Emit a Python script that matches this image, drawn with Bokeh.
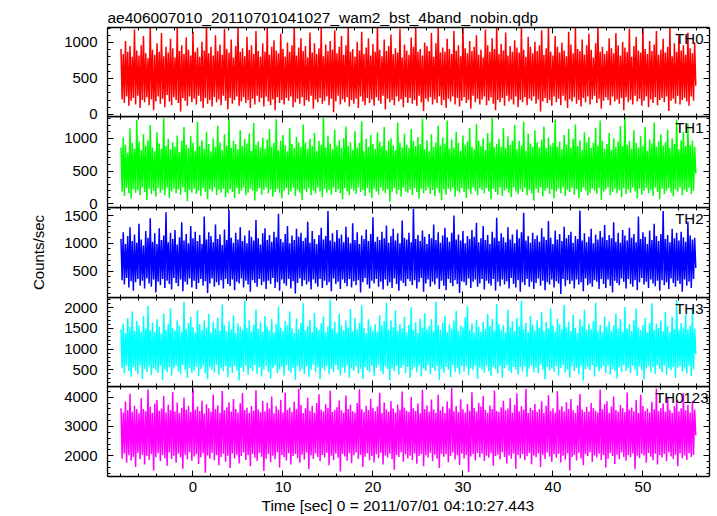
import numpy as np
from bokeh.plotting import figure
from bokeh.layouts import column
from bokeh.models import (Range1d, LinearAxis, SingleIntervalTicker, Label, Title,
                          ColumnDataSource, CustomJSTickFormatter)
from bokeh.embed import file_html
from bokeh.resources import INLINE

FONT = "Liberation Sans"

TITLE = "ae406007010_20110701041027_wam2_bst_4band_nobin.qdp"
X_LABEL = "Time [sec] 0 = 2011/07/01 04:10:27.443"
Y_LABEL = "Counts/sec"

# time bins (sec)
T_START = -8.0
T_BIN = 0.125

panel_names = ["TH0", "TH1", "TH2", "TH3", "TH0123"]
colors = ["#ff0000", "#00ff00", "#0000ff", "#00ffff", "#ff00ff"]
y_lo = [-28, -56, 28, 96, 1293]
y_hi = [1208, 1331, 1644, 2249, 4365]
y_major = [500, 500, 500, 500, 1000]
x_lo, x_hi = -9.5, 57.4
x_major = 10

th0 = [
    910, 210, 840, 160, 1020, 250, 870, 120, 950, 190, 800, 230, 1180, 140, 890, 260,
    820, 90, 960, 200, 1090, 170, 850, 240, 780, 130, 1240, 210, 900, 60, 830, 180,
    990, 250, 870, 150, 1130, 220, 810, 100, 940, 270, 860, 180, 1050, 130, 920, 240,
    790, 200, 1210, 160, 880, 40, 960, 230, 840, 190, 1070, 120, 900, 250, 820, 170,
    1150, 220, 870, 140, 930, 260, 800, 180, 1010, 90, 890, 230, 1260, 150, 850, 200,
    940, 110, 820, 240, 1100, 170, 880, 210, 970, 130, 830, 260, 1190, 190, 910, 70,
    860, 230, 1040, 150, 790, 200, 950, 250, 1230, 120, 870, 180, 920, 240, 810, 160,
    1080, 200, 900, 90, 960, 220, 840, 140, 1160, 260, 880, 170, 800, 230, 990, 110,
    870, 250, 1220, 180, 830, 130, 940, 210, 1030, 60, 890, 240, 850, 160, 1120, 200,
    910, 140, 800, 230, 1000, 190, 870, 250, 960, 100, 1250, 170, 820, 220, 930, 150,
    1060, 240, 880, 120, 950, 200, 790, 180, 1140, 260, 860, 80, 990, 210, 840, 170,
    920, 230, 1200, 150, 810, 190, 970, 250, 880, 130, 1020, 220, 900, 30, 1170, 180,
    850, 260, 940, 140, 1090, 210, 830, 170, 960, 240, 1230, 110, 870, 200, 910, 150,
    800, 220, 1010, 90, 890, 250, 1150, 180, 840, 130, 930, 230, 1060, 160, 820, 210,
    980, 120, 870, 240, 1260, 190, 900, 150, 810, 260, 1040, 70, 880, 220, 950, 170,
    1110, 200, 840, 130, 920, 250, 860, 180, 1190, 210, 790, 100, 970, 240, 890, 160,
    830, 230, 1070, 150, 940, 200, 1240, 120, 870, 260, 910, 170, 820, 50, 1000, 220,
    950, 180, 880, 240, 1130, 140, 800, 210, 990, 160, 1210, 250, 860, 130, 930, 200,
    870, 90, 1050, 220, 910, 180, 840, 250, 1160, 140, 890, 230, 960, 110, 810, 190,
    1230, 240, 920, 160, 850, 200, 1020, 80, 880, 260, 940, 170, 1100, 220, 830, 140,
    900, 210, 790, 250, 1180, 130, 960, 190, 870, 240, 1060, 150, 910, 60, 1250, 200,
    840, 170, 980, 230, 890, 120, 1140, 260, 820, 180, 950, 210, 870, 140, 1030, 250,
    930, 100, 860, 200, 1220, 170, 900, 240, 800, 130, 1080, 220, 940, 190, 850, 250,
    1010, 150, 880, 210, 960, 40, 1170, 180, 830, 230, 920, 160, 1240, 200, 870, 120,
    820, 250, 1090, 170, 940, 220, 860, 130, 1000, 260, 890, 190, 810, 90, 1150, 210,
    970, 180, 850, 240, 1200, 150, 910, 200, 880, 110, 1040, 230, 830, 170, 960, 250,
    1120, 140, 900, 210, 790, 260, 990, 160, 1260, 220, 870, 80, 940, 190, 840, 240,
    880, 200, 1060, 130, 920, 250, 850, 180, 1130, 210, 960, 150, 820, 230, 1010, 60,
    930, 240, 870, 170, 1190, 200, 800, 140, 950, 260, 1080, 180, 890, 220, 860, 120,
    1230, 190, 910, 250, 840, 100, 1020, 210, 880, 160, 970, 240, 1160, 130, 830, 200,
    900, 230, 1050, 170, 860, 250, 940, 50, 1210, 190, 810, 220, 990, 150, 870, 260,
    1100, 140, 890, 200, 960, 230, 830, 180, 1140, 120, 920, 250, 850, 190, 1000, 400,
]

th1 = [
    860, 190, 1010, 120, 900, 240, 780, 160, 1150, 80, 930, 220, 840, 170, 1280, 210,
    950, 130, 820, 250, 1060, 180, 890, 60, 970, 230, 1200, 150, 860, 200, 800, 110,
    1090, 240, 920, 170, 840, 210, 1310, 130, 880, 250, 990, 90, 830, 190, 940, 230,
    870, 160, 1040, 220, 790, 140, 960, 250, 1170, 180, 900, 40, 850, 210, 1030, 170,
    930, 230, 810, 150, 1250, 200, 880, 120, 970, 240, 840, 180, 1100, 70, 910, 220,
    800, 190, 1000, 250, 870, 130, 1190, 210, 940, 170, 820, 230, 1060, 100, 890, 160,
    1300, 220, 850, 180, 960, 90, 910, 240, 830, 150, 1120, 200, 880, 250, 990, 130,
    920, 170, 1070, 230, 810, 200, 1230, 50, 900, 190, 950, 240, 860, 140, 1010, 210,
    840, 250, 980, 160, 1140, 220, 870, 110, 930, 180, 1290, 230, 820, 170, 960, 80,
    1050, 200, 890, 240, 800, 140, 1160, 190, 910, 250, 850, 120, 1020, 210, 940, 170,
    870, 60, 1210, 220, 930, 180, 840, 240, 990, 130, 880, 200, 1080, 160, 810, 250,
    960, 190, 900, 100, 1320, 230, 860, 170, 1040, 210, 920, 140, 830, 250, 1130, 180,
    890, 220, 970, 160, 850, 70, 1000, 240, 1180, 190, 880, 130, 940, 230, 820, 200,
    1110, 150, 860, 250, 930, 180, 1260, 210, 800, 120, 990, 240, 870, 170, 1050, 90,
    910, 230, 840, 190, 1090, 140, 950, 250, 880, 200, 1170, 160, 820, 220, 960, 30,
    1000, 180, 890, 240, 820, 150, 1240, 210, 930, 110, 860, 250, 1070, 190, 900, 170,
    850, 220, 1140, 130, 960, 240, 880, 180, 1020, 80, 910, 230, 1300, 160, 830, 200,
    970, 250, 800, 150, 1060, 210, 870, 120, 940, 240, 1190, 170, 890, 60, 1010, 220,
    920, 140, 1270, 230, 840, 190, 980, 250, 860, 110, 1100, 200, 930, 170, 810, 240,
    1040, 180, 900, 90, 950, 220, 1160, 150, 870, 250, 830, 200, 1220, 130, 960, 240,
    880, 210, 1000, 160, 820, 240, 1080, 190, 940, 70, 1310, 230, 860, 180, 910, 140,
    990, 250, 870, 120, 1150, 200, 850, 230, 1030, 170, 900, 100, 960, 250, 1200, 190,
    830, 150, 960, 220, 890, 180, 1250, 240, 810, 130, 1070, 210, 920, 160, 870, 50,
    1120, 230, 940, 170, 860, 250, 980, 110, 1180, 200, 850, 240, 1010, 150, 890, 220,
    930, 80, 1290, 190, 870, 230, 950, 160, 830, 250, 1050, 120, 900, 210, 1140, 180,
    860, 240, 990, 140, 1210, 220, 880, 90, 970, 180, 820, 250, 1090, 200, 940, 130,
    1020, 170, 850, 230, 930, 200, 1160, 150, 890, 240, 1270, 60, 960, 190, 840, 220,
    910, 250, 1080, 130, 820, 180, 1000, 230, 870, 160, 950, 210, 1190, 100, 880, 240,
    1310, 150, 900, 220, 960, 170, 840, 250, 1120, 190, 930, 80, 860, 230, 1030, 140,
    880, 200, 1170, 240, 810, 160, 980, 210, 920, 120, 1240, 250, 870, 180, 950, 70,
    1060, 230, 890, 150, 940, 200, 1130, 240, 850, 170, 1000, 110, 910, 220, 1280, 190,
    830, 250, 970, 130, 1100, 210, 880, 180, 1220, 240, 900, 150, 960, 200, 870, 460,
]

th2 = [
    1080, 340, 1200, 260, 990, 380, 1130, 210, 1290, 320, 1040, 150, 1160, 300, 1010, 360,
    1350, 240, 1070, 330, 960, 190, 1220, 370, 1100, 280, 1450, 220, 1030, 350, 1180, 120,
    990, 310, 1270, 250, 1060, 360, 1140, 200, 1560, 330, 1020, 270, 1190, 170, 1080, 380,
    1240, 290, 980, 230, 1110, 350, 1380, 140, 1050, 310, 1170, 260, 1000, 370, 1310, 210,
    1090, 330, 1210, 180, 1040, 290, 1150, 360, 990, 240, 1480, 320, 1070, 110, 1200, 280,
    1130, 370, 1020, 220, 1340, 300, 1080, 250, 1160, 340, 970, 190, 1250, 360, 1060, 270,
    1600, 230, 1100, 350, 1010, 160, 1190, 310, 1070, 280, 1290, 370, 1040, 210, 1140, 330,
    1000, 260, 1230, 130, 1120, 340, 1050, 290, 1420, 220, 1090, 360, 980, 250, 1180, 310,
    1270, 180, 1060, 330, 1150, 270, 1030, 380, 1210, 200, 1110, 300, 1530, 150, 1080, 350,
    1020, 280, 1170, 240, 1310, 360, 1000, 190, 1140, 320, 1060, 100, 1260, 290, 1120, 370,
    1190, 230, 1040, 340, 1100, 260, 1390, 310, 1010, 170, 1220, 350, 1080, 280, 990, 220,
    1150, 360, 1280, 200, 1070, 330, 1130, 250, 1580, 300, 1050, 140, 1180, 370, 1030, 270,
    1240, 310, 1090, 180, 1160, 350, 1020, 290, 1300, 230, 1110, 360, 1000, 210, 1360, 320,
    1060, 250, 1200, 340, 990, 120, 1140, 300, 1080, 380, 1250, 260, 1040, 190, 1170, 330,
    1470, 280, 1030, 360, 1120, 220, 1060, 310, 1210, 170, 1090, 350, 1320, 240, 1010, 300,
    1130, 200, 1260, 370, 1050, 270, 1180, 150, 1000, 330, 1410, 290, 1100, 230, 1070, 360,
    1190, 320, 1020, 250, 1620, 340, 1080, 190, 1150, 300, 1040, 380, 1230, 130, 1120, 280,
    990, 350, 1170, 220, 1090, 310, 1340, 260, 1060, 370, 1200, 180, 1010, 330, 1140, 240,
    1280, 160, 1110, 360, 1030, 290, 1190, 230, 1500, 340, 1070, 270, 1160, 110, 1050, 320,
    1220, 300, 1000, 250, 1130, 370, 1080, 200, 1240, 310, 1120, 350, 1370, 220, 1020, 280,
    1090, 360, 1310, 170, 1060, 330, 1150, 280, 990, 240, 1210, 360, 1100, 150, 1460, 310,
    1040, 230, 1180, 350, 1110, 260, 1020, 320, 1290, 190, 1070, 380, 1160, 270, 1000, 210,
    1250, 340, 1090, 130, 1200, 300, 1550, 250, 1050, 360, 1130, 220, 1010, 310, 1190, 180,
    1080, 290, 1140, 370, 1030, 240, 1270, 330, 1120, 160, 1060, 300, 1400, 260, 1100, 350,
    990, 210, 1230, 320, 1070, 280, 1170, 90, 1040, 360, 1300, 230, 1090, 340, 1150, 270,
    1210, 330, 1010, 190, 1130, 350, 1080, 260, 1590, 300, 1050, 140, 1180, 370, 1020, 250,
    1120, 280, 1260, 220, 1000, 340, 1160, 310, 1070, 180, 1220, 360, 1110, 270, 1330, 200,
    1060, 350, 1150, 240, 1090, 120, 1380, 330, 1030, 290, 1190, 250, 1010, 370, 1240, 310,
    1140, 190, 1050, 360, 1280, 270, 1100, 220, 1170, 340, 1020, 160, 1480, 300, 1080, 380,
    1200, 260, 1120, 310, 990, 200, 1230, 350, 1060, 280, 1350, 230, 1130, 330, 1040, 150,
    1170, 340, 1580, 250, 1080, 300, 1150, 180, 1020, 370, 1260, 290, 1090, 220, 1190, 330,
    1050, 270, 1210, 130, 1110, 350, 1030, 240, 1390, 310, 1140, 200, 1070, 360, 1100, 560,
]

th3 = [
    1480, 540, 1620, 410, 1390, 600, 1750, 470, 1530, 330, 1910, 560, 1440, 480, 1680, 390,
    1570, 610, 1420, 280, 1800, 520, 1500, 450, 2050, 580, 1460, 370, 1640, 540, 1410, 490,
    1720, 420, 1540, 600, 1380, 250, 1860, 510, 1470, 440, 1600, 570, 1990, 360, 1510, 530,
    1450, 590, 1690, 460, 1560, 390, 1420, 610, 2140, 500, 1490, 300, 1630, 550, 1780, 430,
    1530, 480, 1400, 570, 1940, 350, 1610, 520, 1460, 600, 1700, 410, 1520, 270, 1850, 560,
    1410, 500, 1660, 440, 1500, 620, 1760, 380, 1440, 530, 2080, 470, 1580, 590, 1430, 320,
    1670, 560, 1480, 420, 1820, 590, 1390, 490, 1620, 240, 1540, 550, 1470, 450, 2180, 600,
    1510, 380, 1700, 530, 1430, 470, 1590, 610, 1960, 400, 1490, 560, 1650, 340, 1420, 510,
    1800, 590, 1550, 450, 1460, 290, 1730, 540, 1400, 600, 1610, 420, 2030, 500, 1520, 570,
    1440, 360, 1680, 610, 1570, 480, 1910, 430, 1500, 550, 1390, 260, 1740, 590, 1480, 460,
    1640, 520, 2110, 400, 1450, 580, 1560, 330, 1710, 500, 1420, 620, 1880, 440, 1530, 560,
    1470, 270, 1620, 540, 1790, 470, 1410, 590, 1540, 390, 2200, 520, 1490, 450, 1660, 610,
    1400, 500, 1850, 360, 1580, 560, 1460, 430, 1690, 600, 1520, 310, 1970, 540, 1430, 480,
    1760, 590, 1480, 410, 1630, 520, 2060, 280, 1510, 570, 1390, 490, 1720, 440, 1550, 600,
    1450, 350, 1600, 550, 1420, 610, 1820, 470, 1570, 400, 1680, 580, 2120, 520, 1470, 250,
    1700, 530, 1530, 460, 1940, 590, 1440, 380, 1610, 540, 1500, 610, 1780, 420, 1410, 570,
    1590, 300, 2010, 500, 1460, 560, 1650, 440, 1390, 600, 1740, 340, 1520, 530, 1870, 470,
    1480, 610, 1560, 390, 1720, 550, 1430, 480, 2150, 590, 1580, 260, 1470, 520, 1640, 430,
    1810, 570, 1410, 500, 1600, 320, 1500, 610, 1690, 450, 1920, 540, 1440, 400, 1570, 590,
    1530, 460, 1770, 580, 2040, 370, 1460, 530, 1620, 490, 1400, 600, 1710, 280, 1540, 550,
    1420, 510, 1660, 430, 1490, 600, 1850, 470, 1560, 350, 1730, 560, 1450, 520, 2090, 410,
    1610, 590, 1470, 300, 1580, 540, 1400, 610, 1960, 480, 1520, 420, 1680, 570, 1430, 500,
    1750, 380, 1550, 560, 2170, 460, 1480, 590, 1630, 330, 1410, 530, 1800, 600, 1590, 440,
    1460, 550, 1700, 410, 1520, 620, 1890, 500, 1440, 270, 1650, 570, 1500, 480, 1990, 530,
    1570, 450, 1420, 590, 1740, 360, 1600, 540, 1480, 610, 2070, 430, 1530, 500, 1660, 310,
    1440, 580, 1830, 470, 1510, 550, 1390, 400, 1720, 600, 1560, 240, 1950, 520, 1470, 560,
    1620, 490, 1480, 610, 1680, 340, 2130, 570, 1430, 460, 1590, 530, 1410, 590, 1790, 420,
    1540, 600, 1670, 380, 1450, 520, 1570, 480, 1860, 290, 1500, 560, 1730, 440, 1420, 610,
    2020, 470, 1490, 550, 1610, 420, 1440, 600, 1700, 510, 1980, 350, 1530, 580, 1460, 490,
    1580, 260, 1750, 530, 1400, 590, 1640, 450, 2110, 560, 1470, 400, 1620, 610, 1510, 520,
    1690, 440, 1430, 600, 1900, 380, 1550, 540, 1410, 490, 1780, 570, 1490, 300, 2190, 550,
    1460, 590, 1630, 460, 1520, 530, 1840, 410, 1480, 600, 1570, 350, 1950, 510, 1500, 880,
]

th0123 = [
    3620, 1900, 3480, 2080, 3850, 1760, 3550, 2020, 4120, 1840, 3500, 1970, 3710, 1620, 3590, 2100,
    3450, 1880, 3960, 2040, 3600, 1700, 3520, 1990, 4260, 1860, 3670, 2060, 3470, 1500, 3780, 1950,
    3900, 2090, 3540, 1810, 3610, 2030, 4050, 1920, 3480, 1660, 3740, 2110, 3560, 1890, 4180, 2000,
    3510, 1760, 3820, 2070, 3460, 1940, 3640, 1560, 3990, 2040, 3580, 1870, 3700, 2120, 3490, 1830,
    4300, 1980, 3570, 2050, 3680, 1720, 3530, 1950, 3880, 2090, 3440, 1420, 3760, 2010, 3620, 1900,
    3500, 2100, 4090, 1850, 3590, 2030, 3720, 1680, 3470, 1960, 4210, 2070, 3550, 1800, 3660, 2000,
    3830, 1580, 3510, 2080, 3940, 1910, 3600, 2040, 3480, 1740, 3790, 1990, 4140, 2110, 3560, 1860,
    3640, 2020, 3460, 1640, 3700, 2060, 3540, 1930, 4240, 1820, 3580, 2100, 3490, 1970, 3870, 1480,
    3520, 1900, 3810, 2050, 3610, 1780, 4020, 2000, 3450, 1880, 3690, 2120, 3570, 1600, 3910, 2030,
    3480, 1950, 4160, 1840, 3560, 2090, 3650, 1700, 3500, 1990, 3840, 2060, 3590, 1920, 4280, 1760,
    3730, 2040, 3460, 1870, 3620, 2110, 3980, 1540, 3540, 2010, 3700, 1890, 3470, 2080, 3800, 1960,
    4100, 1810, 3580, 2030, 3510, 1940, 3760, 2100, 3630, 1680, 4220, 2000, 3490, 1860, 3570, 2070,
    3660, 1930, 3890, 1460, 3550, 2060, 3470, 1980, 4060, 1830, 3600, 2090, 3740, 1750, 3520, 2020,
    3480, 2110, 3800, 1900, 4270, 2040, 3590, 1620, 3500, 1970, 3710, 2080, 3560, 1850, 3950, 1990,
    3640, 1770, 3520, 2050, 3690, 1920, 4150, 2100, 3460, 1700, 3820, 2010, 3580, 1940, 3500, 2070,
    3870, 1880, 3610, 1520, 3480, 2030, 3750, 1960, 3570, 2120, 4190, 1800, 3650, 2050, 3540, 1910,
    3490, 2000, 4010, 1860, 3620, 2080, 3530, 1730, 3780, 1990, 3450, 2060, 4250, 1640, 3600, 2020,
    3720, 1940, 3500, 2100, 3920, 1810, 3580, 2040, 3470, 1900, 4080, 1580, 3550, 2070, 3680, 1970,
    3460, 2050, 3850, 1780, 3610, 1990, 4310, 2110, 3520, 1870, 3700, 2020, 3490, 1690, 3930, 2080,
    3590, 1910, 3480, 2030, 3770, 1440, 3540, 1980, 4170, 2060, 3630, 1840, 3510, 2100, 3810, 1950,
    3680, 2070, 4040, 1820, 3560, 2000, 3470, 1930, 3720, 2090, 3600, 1660, 4230, 1990, 3530, 2040,
    3490, 1870, 3660, 2120, 3880, 1960, 3550, 1740, 3610, 2010, 3970, 1900, 3480, 2080, 3740, 1560,
    4130, 2030, 3520, 1920, 3690, 2060, 3580, 1850, 4290, 1990, 3460, 2100, 3640, 1710, 3560, 2010,
    3770, 1950, 3500, 2080, 3600, 1620, 3860, 2040, 3470, 1890, 3710, 2110, 4070, 1980, 3540, 1800,
    3620, 2050, 3480, 1930, 4200, 2070, 3570, 1770, 3690, 2000, 3510, 1870, 3830, 2090, 3600, 1500,
    3940, 1960, 3550, 2030, 3460, 1840, 3720, 2100, 4110, 1910, 3580, 1680, 3490, 2050, 3670, 1990,
    3510, 2120, 3800, 1790, 3630, 2010, 3540, 1940, 3480, 2070, 4260, 1860, 3590, 2030, 3760, 1600,
    3860, 1900, 3470, 2090, 3680, 1990, 4020, 1720, 3560, 2040, 3500, 1880, 3730, 2110, 3620, 1960,
    3490, 1830, 4160, 2020, 3570, 1950, 3650, 2080, 3520, 1540, 3900, 2000, 3460, 1920, 4080, 2060,
    3700, 2010, 3540, 1760, 3610, 2100, 3480, 1970, 3840, 1850, 3590, 2070, 4300, 1700, 3530, 2030,
    3630, 1940, 3780, 2060, 3500, 1810, 4000, 2120, 3560, 1980, 3470, 1890, 3690, 2040, 3910, 1640,
    3520, 2080, 3620, 1920, 4140, 2010, 3550, 1860, 3740, 2090, 3480, 1960, 3860, 2030, 3570, 2700,
]

series = [th0, th1, th2, th3, th0123]

# layout (pixels)
FRAME_W = 602
LEFT_BORDER = 107
TOP_BORDER = 27
OVERLAP = 8
frame_h = [89, 91, 90, 89, 90]
label_dx = [-6, -6, -6, -6, -1]


def style_axis(ax):
    ax.axis_line_color = "black"
    ax.axis_line_width = 1.3
    ax.major_tick_in = 6
    ax.major_tick_out = 0
    ax.minor_tick_in = 3
    ax.minor_tick_out = 0
    ax.major_tick_line_color = "black"
    ax.minor_tick_line_color = "black"
    ax.major_label_text_font = FONT
    ax.major_label_text_font_size = "15px"
    ax.major_label_text_color = "black"


def blank_labels(ax):
    ax.formatter = CustomJSTickFormatter(code="return ''")
    ax.major_label_text_font_size = "0px"
    ax.major_label_standoff = 0


figs = []
for i in range(5):
    vals = series[i]
    t = T_START + T_BIN * np.arange(len(vals))
    src = ColumnDataSource(dict(t=t, c=vals))
    top = TOP_BORDER if i == 0 else 0
    bottom = 40 if i == 4 else OVERLAP
    margin = (0, 0, 0, 0) if i == 0 else (-OVERLAP, 0, 0, 0)
    p = figure(frame_width=FRAME_W, frame_height=frame_h[i],
               x_range=Range1d(x_lo, x_hi), y_range=Range1d(y_lo[i], y_hi[i]),
               x_axis_location=None, y_axis_location=None,
               output_backend="svg", toolbar_location=None,
               min_border=0, min_border_left=LEFT_BORDER, min_border_right=4,
               min_border_top=top, min_border_bottom=bottom, margin=margin)
    p.outline_line_color = None
    p.background_fill_alpha = 0
    p.border_fill_alpha = 0
    p.grid.visible = False

    p.line("t", "c", source=src, color=colors[i], line_width=1.5)

    yt = SingleIntervalTicker(interval=y_major[i], num_minor_ticks=5)
    xt = SingleIntervalTicker(interval=x_major, num_minor_ticks=5)

    left = LinearAxis(ticker=yt)
    style_axis(left)
    left.major_label_standoff = 10
    if i == 2:
        left.axis_label = Y_LABEL
        left.axis_label_text_font = FONT
        left.axis_label_text_font_size = "15px"
        left.axis_label_text_font_style = "normal"
        left.axis_label_text_color = "black"
        left.axis_label_standoff = 14
    p.add_layout(left, "left")

    right = LinearAxis(ticker=yt)
    style_axis(right)
    blank_labels(right)
    p.add_layout(right, "right")

    above = LinearAxis(ticker=xt)
    style_axis(above)
    blank_labels(above)
    p.add_layout(above, "above")

    below = LinearAxis(ticker=xt)
    style_axis(below)
    if i < 4:
        blank_labels(below)
    else:
        below.major_label_standoff = 5
    p.add_layout(below, "below")

    if i == 0:
        p.title.text = TITLE
        p.title.align = "left"
        p.title.text_font = FONT
        p.title.text_font_size = "15.5px"
        p.title.text_font_style = "normal"
        p.title.text_color = "black"
        p.title.standoff = 3
    if i == 4:
        p.add_layout(Title(text=X_LABEL, align="left", offset=154, text_font=FONT,
                           text_font_size="15.5px", text_font_style="normal",
                           text_color="black", standoff=0),
                     "below")

    p.add_layout(Label(x=x_hi, y=y_hi[i], x_offset=label_dx[i], y_offset=-2,
                       text=panel_names[i], text_align="right", text_baseline="top",
                       text_font=FONT, text_font_size="15px", text_color="black"))
    figs.append(p)

layout = column(*figs, spacing=0)
open("out.html", "w").write(file_html(layout, INLINE))
